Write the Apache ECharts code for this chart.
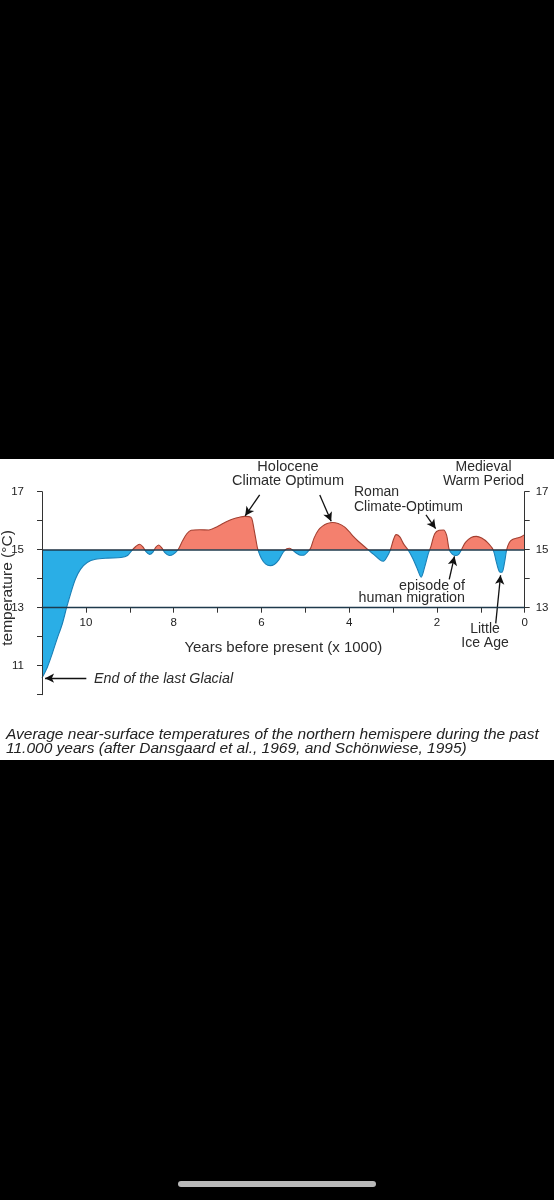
<!DOCTYPE html>
<html>
<head>
<meta charset="utf-8">
<script src="https://cdn.jsdelivr.net/npm/echarts@6/dist/echarts.min.js"></script>
<style>
  html, body { margin: 0; padding: 0; background: #000; }
  #paper { position: absolute; left: 0; top: 459px; width: 554px; height: 301px; background: #fff; }
  #chart { position: absolute; left: 0; top: 0; width: 554px; height: 1200px; }
  #homebar { position: absolute; left: 178px; top: 1181px; width: 198px; height: 6px; border-radius: 3px; background: #b9b9b9; }
</style>
</head>
<body>
<div id="paper"></div>
<div id="chart"></div>
<div id="homebar"></div>
<script>
// thousands of years before present
const years = [11.0, 10.88, 10.77, 10.66, 10.54, 10.44, 10.35, 10.24, 10.12, 9.97,
  9.78, 9.5, 9.2, 9.05, 8.95, 8.87, 8.78, 8.7, 8.63, 8.55,
  8.47, 8.41, 8.34, 8.27, 8.2, 8.1, 8.02, 7.9, 7.8, 7.7,
  7.6, 7.4, 7.2, 7.0, 6.88, 6.75, 6.65, 6.5, 6.38, 6.28,
  6.22, 6.17, 6.12, 6.08, 6.0, 5.9, 5.8, 5.7, 5.6, 5.5,
  5.42, 5.36, 5.3, 5.2, 5.1, 5.02, 4.95, 4.88, 4.8, 4.7,
  4.6, 4.5, 4.38, 4.25, 4.1, 4.0, 3.9, 3.8, 3.7, 3.57,
  3.45, 3.3, 3.22, 3.14, 3.06, 2.99, 2.93, 2.85, 2.76, 2.66,
  2.55, 2.45, 2.36, 2.28, 2.2, 2.14, 2.05, 1.95, 1.85, 1.78,
  1.72, 1.65, 1.57, 1.5, 1.44, 1.35, 1.22, 1.1, 0.98, 0.85,
  0.72, 0.65, 0.58, 0.52, 0.46, 0.41, 0.35, 0.28, 0.18, 0.08, 0.0];
// near-surface temperature, °C
const temps = [10.58, 10.94, 11.4, 11.91, 12.43, 13.0, 13.47, 13.98, 14.33, 14.56,
  14.67, 14.71, 14.73, 14.8, 14.98, 15.1, 15.19, 15.1, 14.93, 14.84,
  14.92, 15.08, 15.16, 15.06, 14.9, 14.8, 14.83, 15.0, 15.3, 15.55,
  15.67, 15.69, 15.68, 15.8, 15.9, 16.0, 16.06, 16.12, 16.15, 16.14,
  16.08, 15.72, 15.3, 15.0, 14.7, 14.5, 14.45, 14.5, 14.66, 14.92,
  15.03, 15.05, 15.0, 14.88, 14.81, 14.82, 14.92, 15.05, 15.4, 15.68,
  15.82, 15.9, 15.94, 15.9, 15.78, 15.62, 15.45, 15.3, 15.17, 15.0,
  14.85, 14.65, 14.6, 14.75, 15.0, 15.35, 15.52, 15.45, 15.2, 15.0,
  14.7, 14.35, 14.05, 14.4, 14.85, 15.1, 15.55, 15.67, 15.68, 15.5,
  15.0, 14.85, 14.8, 14.85, 15.0, 15.25, 15.42, 15.46, 15.4, 15.25,
  15.0, 14.6, 14.25, 14.22, 14.55, 15.0, 15.25, 15.35, 15.4, 15.45, 15.52];

const baseline = 15;
const xLabelYears = [0, 2, 4, 6, 8, 10];
const leftLabelTemps = [11, 13, 15, 17];
const rightLabelTemps = [13, 15, 17];

// arrows: [fromYear, fromTemp, toYear, toTemp]
const arrows = [
  [6.04, 16.89, 6.37, 16.17],
  [4.67, 16.89, 4.41, 15.98],
  [2.25, 16.2, 2.03, 15.73],
  [0.84, 17.06, 1.08, 15.52],
  [1.72, 13.98, 1.6, 14.77],
  [0.66, 12.46, 0.55, 14.12],
  [9.99, 10.57, 10.93, 10.57]
];

const points = years.map((y, i) => [y, temps[i]]);
const font = '"Liberation Sans", Arial, sans-serif';
const ink = '#2b2b2b';

const arrowLines = arrows.map(a => [
  { coord: [a[0], a[1]], symbol: 'none' },
  { coord: [a[2], a[3]], symbol: 'arrow', symbolSize: [7, 9] }
]);

const chart = echarts.init(document.getElementById('chart'), null, { renderer: 'canvas' });

chart.setOption({
  animation: false,
  backgroundColor: 'transparent',
  grid: [
    { left: 42, right: 29.3, top: 491.7, height: 203 },
    { left: 42, right: 29.3, top: 491.7, height: 116 }
  ],
  xAxis: [
    { gridIndex: 0, type: 'value', min: 0, max: 11, inverse: true, show: false },
    {
      gridIndex: 1, type: 'value', min: 0, max: 11, interval: 1, inverse: true, z: 10,
      axisLine: { onZero: false, lineStyle: { color: '#1e3a4c', width: 1.3 } },
      axisTick: { length: 5, lineStyle: { color: '#333' } },
      splitLine: { show: false },
      axisLabel: {
        margin: 9, fontSize: 11.5, fontFamily: font, color: '#222',
        formatter: v => xLabelYears.includes(v) ? String(v) : ''
      },
      name: 'Years before present (x 1000)',
      nameLocation: 'middle', nameGap: 33,
      nameTextStyle: { fontSize: 15, fontFamily: font, color: ink }
    }
  ],
  yAxis: [
    {
      gridIndex: 0, type: 'value', min: 10, max: 17, interval: 1, position: 'left', z: 10,
      axisLine: { show: true, onZero: false, lineStyle: { color: '#333' } },
      axisTick: { show: true, length: 5, lineStyle: { color: '#333' } },
      splitLine: { show: false },
      axisLabel: {
        margin: 18, fontSize: 11.5, fontFamily: font, color: '#222',
        formatter: v => leftLabelTemps.includes(v) ? String(v) : ''
      }
    },
    {
      gridIndex: 1, type: 'value', min: 13, max: 17, interval: 1, position: 'right', z: 10,
      axisLine: { show: true, onZero: false, lineStyle: { color: '#333' } },
      axisTick: { show: true, length: 5, lineStyle: { color: '#333' } },
      splitLine: { show: false },
      axisLabel: {
        margin: 11, fontSize: 11.5, fontFamily: font, color: '#222',
        formatter: v => rightLabelTemps.includes(v) ? String(v) : ''
      }
    }
  ],
  visualMap: [
    {
      type: 'piecewise', show: false, seriesIndex: 0, dimension: 1,
      pieces: [{ gte: 5, lt: baseline, color: '#2aaee6' }, { gte: baseline, lte: 25, color: '#f4806e' }]
    },
    {
      type: 'piecewise', show: false, seriesIndex: 1, dimension: 1,
      pieces: [{ gte: 5, lt: baseline, color: '#1a7fb5' }, { gte: baseline, lte: 25, color: '#a33f30' }]
    }
  ],
  series: [
    {
      type: 'line', xAxisIndex: 0, yAxisIndex: 0, data: points,
      smooth: 0.3, showSymbol: false, z: 2,
      lineStyle: { opacity: 0 },
      areaStyle: { origin: baseline, opacity: 1 },
      markLine: {
        silent: true, symbol: 'none', label: { show: false },
        lineStyle: { color: '#1e3a4c', width: 1.5, type: 'solid' },
        data: [{ yAxis: baseline }]
      }
    },
    {
      type: 'line', xAxisIndex: 0, yAxisIndex: 0, data: points,
      smooth: 0.3, showSymbol: false, z: 3,
      lineStyle: { width: 1.1 },
      markLine: {
        silent: true, label: { show: false },
        lineStyle: { color: '#111', width: 1.3, type: 'solid' },
        data: arrowLines
      }
    }
  ],
  graphic: [
    { type: 'text', x: 288, y: 474, style: { text: 'Holocene\nClimate Optimum', font: '14.5px ' + font, fill: ink, align: 'center', verticalAlign: 'middle', lineHeight: 14.3 } },
    { type: 'text', x: 354, y: 499.2, style: { text: 'Roman\nClimate-Optimum', font: '14px ' + font, fill: ink, align: 'left', verticalAlign: 'middle', lineHeight: 15 } },
    { type: 'text', x: 483.5, y: 474, style: { text: 'Medieval\nWarm Period', font: '14px ' + font, fill: ink, align: 'center', verticalAlign: 'middle', lineHeight: 14.3 } },
    { type: 'text', x: 465, y: 592.5, style: { text: 'episode of\nhuman migration', font: '14.3px ' + font, fill: ink, align: 'right', verticalAlign: 'middle', lineHeight: 12 } },
    { type: 'text', x: 485, y: 636, style: { text: 'Little\nIce Age', font: '14px ' + font, fill: ink, align: 'center', verticalAlign: 'middle', lineHeight: 13.4 } },
    { type: 'text', x: 94, y: 679.3, style: { text: 'End of the last Glacial', font: 'italic 14.3px ' + font, fill: ink, align: 'left', verticalAlign: 'middle' } },
    { type: 'text', x: 8, y: 588, rotation: Math.PI / 2, style: { text: 'temperature (°C)', font: '15.5px ' + font, fill: ink, align: 'center', verticalAlign: 'middle' } },
    { type: 'text', x: 6, y: 742, style: { text: 'Average near-surface temperatures of the northern hemispere during the past\n11.000 years (after Dansgaard et al., 1969, and Schönwiese, 1995)', font: 'italic 15.5px ' + font, fill: '#222', align: 'left', verticalAlign: 'middle', lineHeight: 14.3 } }
  ]
});
</script>
</body>
</html>
